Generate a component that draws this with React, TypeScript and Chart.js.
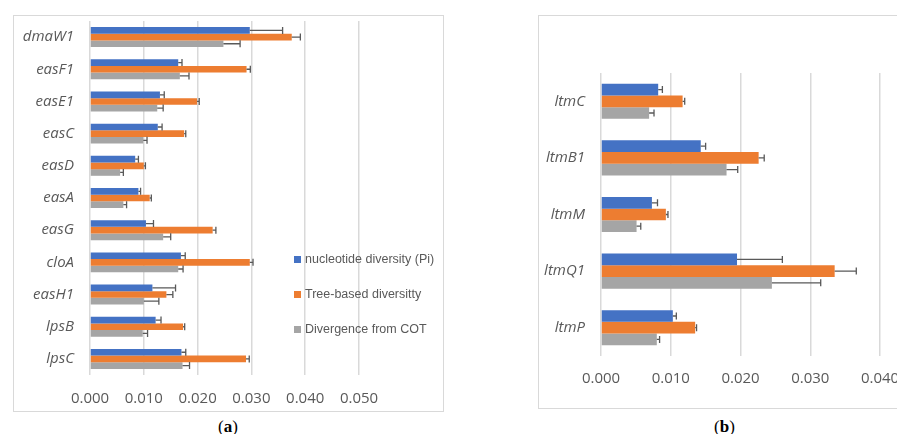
import React, { useEffect, useRef } from "react";
import { Chart, registerables } from "chart.js";
Chart.register(...registerables);

const leftCategories = ["dmaW1", "easF1", "easE1", "easC", "easD", "easA", "easG", "cloA", "easH1", "lpsB", "lpsC"];
const leftPi = [0.0297, 0.0164, 0.0130, 0.0126, 0.0084, 0.0090, 0.0104, 0.0169, 0.0116, 0.0122, 0.0170];
const leftPiErr = [0.0061, 0.0007, 0.0008, 0.0008, 0.0006, 0.0004, 0.0014, 0.0008, 0.0043, 0.0010, 0.0008];
const leftTree = [0.0375, 0.0291, 0.0199, 0.0175, 0.0100, 0.0111, 0.0228, 0.0297, 0.0142, 0.0173, 0.0290];
const leftTreeErr = [0.0016, 0.0007, 0.0004, 0.0003, 0.0003, 0.0003, 0.0006, 0.0006, 0.0012, 0.0003, 0.0006];
const leftCot = [0.0248, 0.0167, 0.0125, 0.0099, 0.0056, 0.0062, 0.0136, 0.0164, 0.0100, 0.0098, 0.0172];
const leftCotErr = [0.0031, 0.0017, 0.0011, 0.0007, 0.0006, 0.0006, 0.0014, 0.0009, 0.0028, 0.0009, 0.0013];

const rightCategories = ["ltmC", "ltmB1", "ltmM", "ltmQ1", "ltmP"];
const rightPi = [0.0082, 0.0143, 0.0073, 0.0195, 0.0103];
const rightPiErr = [0.0006, 0.0007, 0.0008, 0.0065, 0.0005];
const rightTree = [0.0117, 0.0226, 0.0093, 0.0335, 0.0135];
const rightTreeErr = [0.0003, 0.0008, 0.0003, 0.0031, 0.0002];
const rightCot = [0.0069, 0.0180, 0.0051, 0.0245, 0.0080];
const rightCotErr = [0.0007, 0.0016, 0.0006, 0.0070, 0.0004];

const seriesNames = ["nucleotide diversity (Pi)", "Tree-based diversitty", "Divergence from COT"];
const seriesColors = ["#4472C4", "#ED7D31", "#A5A5A5"];

const errorBarPlugin = {
  id: "errorBars",
  afterDatasetsDraw(chart: any) {
    const ctx = chart.ctx;
    const xScale = chart.scales.x;
    ctx.save();
    ctx.strokeStyle = "#595959";
    ctx.lineWidth = 1.3;
    chart.data.datasets.forEach((ds: any, i: number) => {
      const meta = chart.getDatasetMeta(i);
      meta.data.forEach((el: any, j: number) => {
        const v = ds.data[j];
        const e = ds.errors[j];
        const x0 = el.x;
        const x1 = xScale.getPixelForValue(v + e);
        const y = el.y;
        ctx.beginPath();
        ctx.moveTo(x0, y);
        ctx.lineTo(x1, y);
        ctx.moveTo(x1, y - 3.5);
        ctx.lineTo(x1, y + 3.5);
        ctx.stroke();
      });
    });
    ctx.restore();
  },
};

function makeChart(
  canvas: HTMLCanvasElement,
  labels: string[],
  series: number[][],
  errs: number[][],
  max: number,
  pad: { top: number; right: number },
  yWidth: number,
  xHeight: number,
  tickPad: number
) {
  return new Chart(canvas, {
    type: "bar",
    data: {
      labels,
      datasets: series.map((d, i) => ({
        label: seriesNames[i],
        data: d,
        errors: errs[i],
        backgroundColor: seriesColors[i],
        borderWidth: 0,
        categoryPercentage: 0.62,
        barPercentage: 1.0,
      })) as any,
    },
    options: {
      indexAxis: "y",
      responsive: false,
      animation: false,
      devicePixelRatio: 1,
      layout: { padding: { left: 0, right: pad.right, top: pad.top, bottom: 0 } },
      plugins: { legend: { display: false }, tooltip: { enabled: false } },
      scales: {
        x: {
          min: 0,
          max,
          ticks: {
            stepSize: 0.01,
            padding: tickPad,
            color: "#595959",
            font: { family: "Open Sans", size: 15 },
            callback: (v: any) => Number(v).toFixed(3),
          },
          grid: { color: "#d9d9d9", lineWidth: 1.5, drawTicks: false },
          border: { display: false },
          afterFit: (s: any) => {
            s.height = xHeight;
            s.paddingLeft = 0;
            s.paddingRight = 0;
          },
        },
        y: {
          ticks: {
            padding: 16,
            color: "#595959",
            font: { family: "Open Sans", size: 15, style: "italic" },
          },
          grid: { display: false, drawTicks: false },
          border: { display: false },
          afterFit: (s: any) => {
            s.width = yWidth;
            s.paddingTop = 0;
            s.paddingBottom = 0;
          },
        },
      },
    } as any,
    plugins: [errorBarPlugin],
  });
}

export default function App() {
  const leftRef = useRef<HTMLCanvasElement>(null);
  const rightRef = useRef<HTMLCanvasElement>(null);

  useEffect(() => {
    const c1 = makeChart(
      leftRef.current!,
      leftCategories,
      [leftPi, leftTree, leftCot],
      [leftPiErr, leftTreeErr, leftCotErr],
      0.05,
      { top: 6, right: 84 },
      77,
      36,
      15
    );
    const c2 = makeChart(
      rightRef.current!,
      rightCategories,
      [rightPi, rightTree, rightCot],
      [rightPiErr, rightTreeErr, rightCotErr],
      0.04,
      { top: 58, right: 25 },
      62,
      52,
      14
    );
    return () => {
      c1.destroy();
      c2.destroy();
    };
  }, []);

  const frame = (left: number, top: number, width: number, height: number): React.CSSProperties => ({
    position: "absolute",
    left,
    top,
    width,
    height,
    border: "1.5px solid #d9d9d9",
    boxSizing: "border-box",
  });

  return (
    <div style={{ position: "absolute", left: 0, top: 0, width: 897, height: 434, overflow: "hidden", background: "#fff" }}>
      <div style={frame(13, 15, 431, 397)} />
      <div style={frame(538, 15, 370, 394)} />
      <canvas ref={leftRef} width={430} height={396} style={{ position: "absolute", left: 13, top: 15 }} />
      <canvas ref={rightRef} width={366} height={393} style={{ position: "absolute", left: 539, top: 15 }} />
      {seriesNames.map((n, i) => (
        <div
          key={n}
          style={{
            position: "absolute",
            left: 294,
            top: 251 + i * 35,
            height: 16,
            display: "flex",
            alignItems: "center",
            fontFamily: "Liberation Sans, Arial, sans-serif",
            fontSize: 12.5,
            color: "#595959",
            whiteSpace: "nowrap",
          }}
        >
          <span style={{ display: "inline-block", width: 7, height: 7, background: seriesColors[i], marginRight: 4 }} />
          {n}
        </div>
      ))}
      <div style={{ position: "absolute", left: 218, top: 417, fontFamily: "Liberation Serif, serif", fontSize: 17, color: "#000" }}>
        (<b>a</b>)
      </div>
      <div style={{ position: "absolute", left: 714, top: 417, fontFamily: "Liberation Serif, serif", fontSize: 17, color: "#000" }}>
        (<b>b</b>)
      </div>
    </div>
  );
}
